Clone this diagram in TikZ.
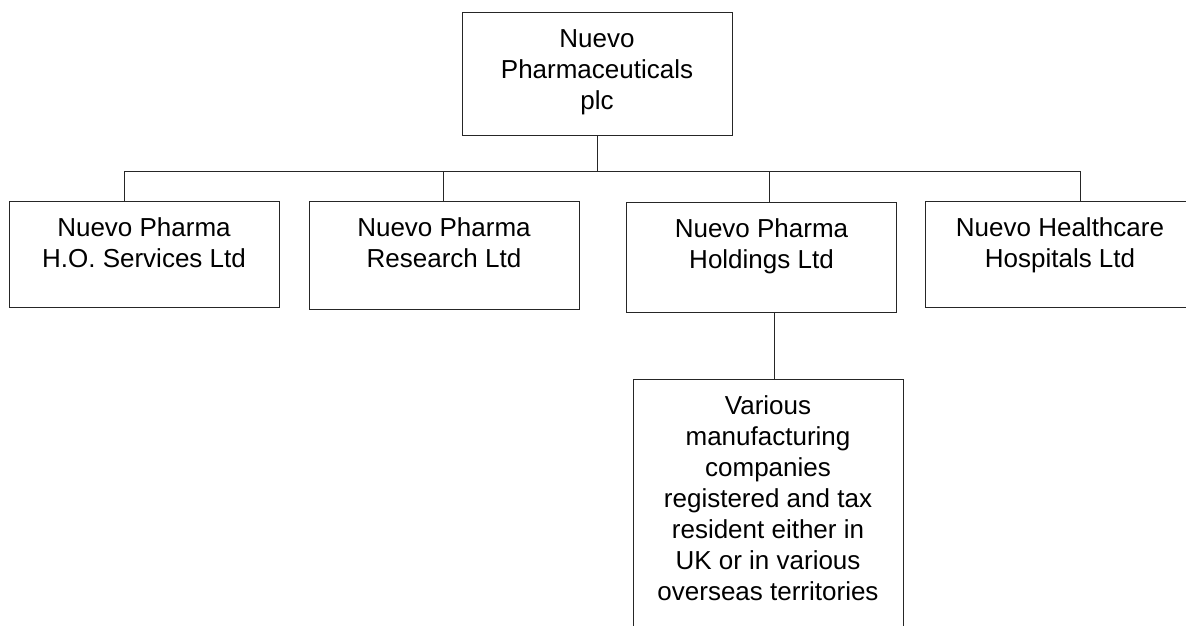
\documentclass[tikz,border=0pt]{standalone}
\usepackage{fontspec}
\setmainfont{Liberation Sans}
\begin{document}
\begin{tikzpicture}[x=1pt,y=-1pt,
  box/.style={draw=black!85,line width=1pt,rectangle,inner sep=0pt,minimum width=270pt},
  lbl/.style={inner sep=0pt,anchor=north,align=center,font=\fontsize{26}{31}\selectfont,yshift=-17pt},
  con/.style={draw=black!85,line width=1pt}]
\useasboundingbox (0,0) rectangle (1186,626);
\node[box,minimum height=122pt] (top) at (597,74) {};
\node[lbl] (ttop) at (top.north) {Nuevo\\Pharmaceuticals\\plc};
\node[box,minimum height=106pt] (b1) at (144,254) {};
\node[lbl] (t1) at (b1.north) {Nuevo Pharma\\H.O. Services Ltd};
\node[box,minimum height=108pt] (b2) at (444,255) {};
\node[lbl] (t2) at (b2.north) {Nuevo Pharma\\Research Ltd};
\node[box,minimum height=110pt] (b3) at (761.5,257) {};
\node[lbl] (t3) at (b3.north) {Nuevo Pharma\\Holdings Ltd};
\node[box,minimum height=106pt] (b4) at (1060,254) {};
\node[lbl] (t4) at (b4.north) {Nuevo Healthcare\\Hospitals Ltd};
\node[box,minimum height=270pt] (b5) at (768,514) {};
\node[lbl] (t5) at (b5.north) {Various\\manufacturing\\companies\\registered and tax\\resident either in\\UK or in various\\overseas territories};
\coordinate (d1) at (124,171);
\coordinate (d2) at (443,171);
\coordinate (d3) at (769,171);
\coordinate (d4) at (1080,171);
\coordinate (hub) at (597,171);
\coordinate (e3) at (774,345);
\draw[con] (d1) -- (d4);
\draw[con] (top.south) -- (hub);
\draw[con] (d1) -- (b1.north -| d1);
\draw[con] (d2) -- (b2.north -| d2);
\draw[con] (d3) -- (b3.north -| d3);
\draw[con] (d4) -- (b4.north -| d4);
\draw[con] (b3.south -| e3) -- (b5.north -| e3);
\end{tikzpicture}
\end{document}
